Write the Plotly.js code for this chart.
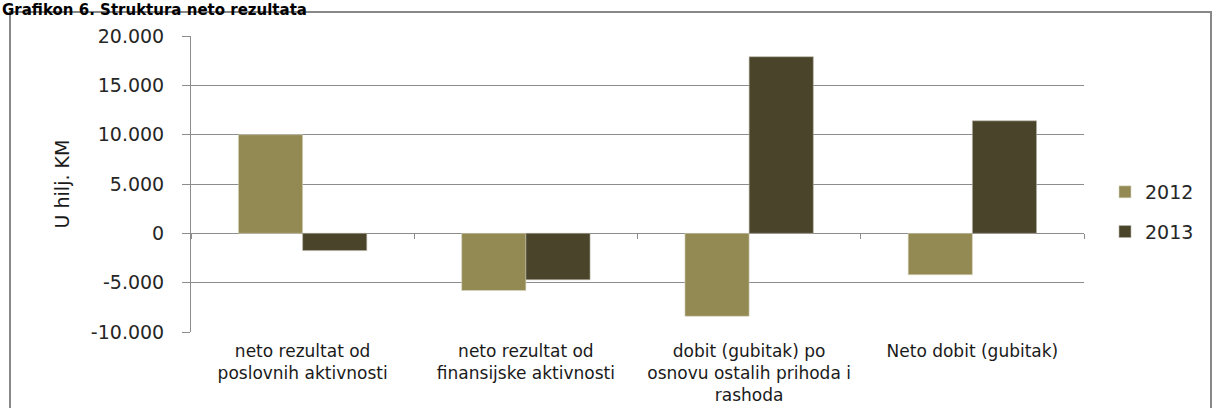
<!DOCTYPE html>
<html>
<head>
<meta charset="utf-8">
<script src="https://cdn.plot.ly/plotly-3.0.1.min.js"></script>
<style>
html,body{margin:0;padding:0;background:#fff;}
#chart{width:1212px;height:408px;}
</style>
</head>
<body>
<div id="chart"></div>
<script>
// ---- data ----
const categories = [
  "neto rezultat od<br>poslovnih aktivnosti",
  "neto rezultat od<br>finansijske aktivnosti",
  "dobit (gubitak) po<br>osnovu ostalih prihoda i<br>rashoda",
  "Neto dobit (gubitak)"
];
const seriesNames = ["2012", "2013"];
const values2012 = [10000, -5800, -8400, -4200];
const values2013 = [-1750, -4700, 17900, 11400];
const yTickVals = [-10000, -5000, 0, 5000, 10000, 15000, 20000];
const yTickText = ["-10.000", "-5.000", "0", "5.000", "10.000", "15.000", "20.000"];
const chartTitle = "Grafikon 6. Struktura neto rezultata";
const yTitle = "U hilj. KM";

const colors = ["#938953", "#4a452a"];
const gridColor = "#8c8c8c";

const traces = [
  {type: "bar", name: seriesNames[0], x: categories, y: values2012,
   marker: {color: colors[0], line: {color: "#d8d6c4", width: 0.6}}, legendgroup: "a", hoverinfo: "x+y"},
  {type: "bar", name: seriesNames[1], x: categories, y: values2013,
   marker: {color: colors[1], line: {color: "#b9b7a8", width: 0.6}}, legendgroup: "b", hoverinfo: "x+y"},
  // helper trace so the zero-line category tick axis is drawn
  {type: "scatter", mode: "markers", x: categories, y: categories.map(() => null),
   xaxis: "x2", yaxis: "y", showlegend: false, hoverinfo: "skip"}
];

const L = 191, R = 1084, T = 36, B = 332;
const W = 1212, H = 408;
const pw = R - L, ph = B - T;
const px = v => (v - L) / pw;
const py = v => 1 - (v - T) / ph;

const layout = {
  width: W, height: H,
  margin: {l: L, r: W - R, t: T, b: H - B, pad: 0},
  paper_bgcolor: "#ffffff",
  plot_bgcolor: "#ffffff",
  barmode: "group",
  bargap: 0.425,
  bargroupgap: 0,
  showlegend: true,
  font: {family: "DejaVu Sans, Arial, sans-serif", color: "#1a1a1a"},
  xaxis: {
    type: "category",
    range: [-0.5, 3.5],
    showgrid: false, zeroline: false, showline: false,
    ticks: "",
    tickfont: {family: "DejaVu Sans, Arial, sans-serif", size: 17, color: "#1a1a1a"},
    ticklabelstandoff: 7,
    fixedrange: true
  },
  xaxis2: {
    type: "category",
    overlaying: "x",
    anchor: "free",
    position: py(232.7),
    range: [-0.5, 3.5],
    tickson: "boundaries",
    ticks: "outside", ticklen: 5, tickwidth: 1, tickcolor: gridColor,
    showticklabels: false, showgrid: false, zeroline: false, showline: false,
    fixedrange: true
  },
  yaxis: {
    range: [-10000, 20000],
    tickvals: yTickVals,
    ticktext: yTickText,
    showgrid: true, gridcolor: gridColor, gridwidth: 1,
    zeroline: false,
    showline: true, linecolor: gridColor, linewidth: 1,
    ticks: "outside", ticklen: 8, tickcolor: gridColor,
    tickfont: {family: "DejaVu Sans, Arial, sans-serif", size: 19, color: "#262626"},
    ticklabelstandoff: 14,
    title: {text: yTitle, font: {family: "DejaVu Sans, Arial, sans-serif", size: 19, color: "#1a1a1a"}, standoff: 16},
    fixedrange: true
  },
  legend: {
    x: px(1105), xanchor: "left",
    y: py(173), yanchor: "top",
    traceorder: "grouped",
    tracegroupgap: 12,
    font: {family: "DejaVu Sans, Arial, sans-serif", size: 19, color: "#262626"},
    bgcolor: "rgba(0,0,0,0)"
  },
  shapes: [
    {type: "rect", xref: "paper", yref: "paper",
     x0: px(10), x1: px(1211), y0: py(412), y1: py(12),
     line: {color: "#888888", width: 2}, fillcolor: "rgba(0,0,0,0)", layer: "below"}
  ],
  annotations: [
    {text: "<b>" + chartTitle + "</b>", xref: "paper", yref: "paper",
     x: px(1), xanchor: "left", y: py(0), yanchor: "top",
     showarrow: false, borderpad: 0,
     font: {family: "DejaVu Sans, Arial, sans-serif", size: 15, color: "#000000"}}
  ]
};

Plotly.newPlot("chart", traces, layout, {displayModeBar: false, staticPlot: true});
</script>
</body>
</html>
